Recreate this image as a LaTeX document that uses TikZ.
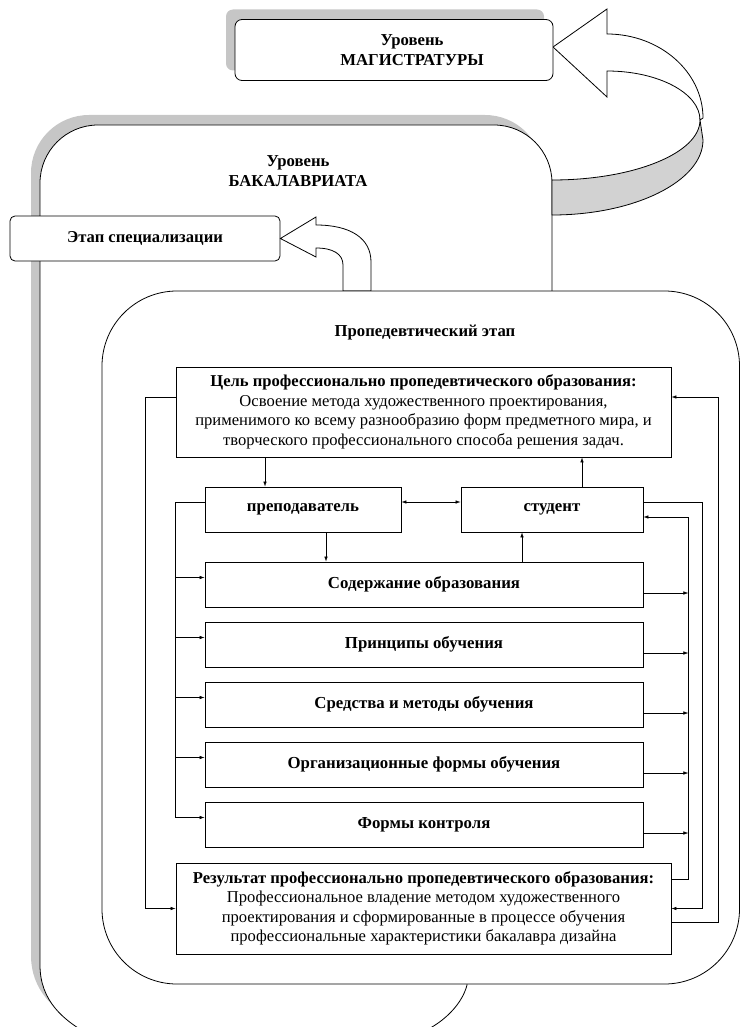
\documentclass[tikz,border=0pt]{standalone}
\usepackage{fontspec}
\setmainfont{Liberation Serif}
\usetikzlibrary{calc,shadows,arrows.meta}

\tikzset{
  levelbox/.style={draw, rounded corners=7pt, fill=white,
                   general shadow={fill=gray!45, shadow xshift=-9pt, shadow yshift=10pt}},
  stagebox/.style={draw, rounded corners=5pt, fill=white,
                   font=\bfseries\fontsize{16.6}{19}\selectfont},
  blockbox/.style={draw, rectangle, fill=white, align=center,
                   font=\bfseries\fontsize{16.8}{19}\selectfont},
  textbox/.style={draw, rectangle, fill=white, align=center,
                  font=\fontsize{16.6}{19.5}\selectfont},
  arr/.style={-{Latex[length=5pt,width=3.5pt]}, line width=0.6pt},
  darr/.style={{Latex[length=5pt,width=3.5pt]}-{Latex[length=5pt,width=3.5pt]}, line width=0.6pt}}

\begin{document}
\begin{tikzpicture}
[x=1pt, y=-1pt, line width=0.8pt,
 head/.style={align=center, font=\bfseries\fontsize{16.7}{20.5}\selectfont}]
\useasboundingbox (0,0) rectangle (740,1027);
\clip (0,0) rectangle (740,1027);

% уровень бакалавриата
\filldraw[fill=white, general shadow={fill=gray!45, shadow xshift=-9pt, shadow yshift=10pt}]
  (40,965) -- (40,183) .. controls (40,151) and (66,125) .. (98,125)
  -- (494,125) .. controls (526,125) and (552,151) .. (552,183)
  -- (552,600) -- (467,900) -- (467,985)
  .. controls (462,1005) and (440,1030) .. (400,1040) -- (100,1040)
  .. controls (62,1022) and (40,1000) .. (40,965) -- cycle;
\node (bak) at (298,171) [head] {Уровень\\БАКАЛАВРИАТА};

% переход на уровень магистратуры
\filldraw[fill=gray!35] (700,120) .. controls (700,153) and (634,180) .. (552,180)
  -- (552,215) .. controls (635,215) and (703,181) .. (703,140) -- cycle;
\filldraw[fill=white] (553,47) -- (607,9) -- (607,34)
  .. controls (660,34) and (703,72) .. (703,118) -- (700,120)
  .. controls (700,93) and (658,71) .. (607,71) -- (607,97) -- cycle;

\node (mag) at (394,50) [levelbox, minimum width=318pt, minimum height=61pt] {};
\node (magtext) at (412,50) [head] {Уровень\\МАГИСТРАТУРЫ};

% этап специализации
\node (spec) at (145,238.5) [stagebox, minimum width=270pt, minimum height=45pt] {Этап специализации};
\filldraw[fill=white] (spec.east) -- (316,217) -- (316,225)
  .. controls (350,225) and (371,238) .. (371,262) -- (371,291) -- (343,291)
  -- (343,265) .. controls (343,254) and (333,248) .. (316,248) -- (316,257) -- cycle;

% пропедевтический этап
\filldraw[fill=white, rounded corners=75pt] (102,291) rectangle (739.5,984);
\node (prop) at (425,333) [head] {Пропедевтический этап};

\node (goal) at (423.5,412) [textbox, minimum width=495pt, minimum height=90pt]
  {\textbf{Цель профессионально пропедевтического образования:}\\
   Освоение метода художественного проектирования,\\
   применимого ко всему разнообразию форм предметного мира, и\\
   творческого профессионального способа решения задач.};
\node (prep) at (303,509.5) [blockbox, minimum width=196pt, minimum height=45pt] {преподаватель};
\node (stud) at (552,509.5) [blockbox, minimum width=182pt, minimum height=45pt] {студент};
\node (content) at (424,584.5) [blockbox, minimum width=438pt, minimum height=45pt] {Содержание образования};
\node (princ) at (424,644.5) [blockbox, minimum width=438pt, minimum height=45pt] {Принципы обучения};
\node (means) at (424,704.5) [blockbox, minimum width=438pt, minimum height=45pt] {Средства и методы обучения};
\node (orgforms) at (424,764.5) [blockbox, minimum width=438pt, minimum height=45pt] {Организационные формы обучения};
\node (control) at (424,824.5) [blockbox, minimum width=438pt, minimum height=45pt] {Формы контроля};
\node (result) at (423.5,908.5) [textbox, minimum width=495pt, minimum height=91pt]
  {\textbf{Результат профессионально пропедевтического образования:}\\
   Профессиональное владение методом художественного\\
   проектирования и сформированные в процессе обучения\\
   профессиональные характеристики бакалавра дизайна};

% связи
\coordinate (p1) at ($(prep.north)+(-38,0)$);
\coordinate (s1) at ($(stud.north)+(30,0)$);
\coordinate (p2) at ($(prep.south)+(23,0)$);
\coordinate (s2) at ($(stud.south)+(-30,0)$);
\draw[arr] (p1 |- goal.south) -- (p1);
\draw[arr] (s1) -- (s1 |- goal.south);
\draw[arr] (p2) -- (p2 |- content.north);
\draw[arr] (s2 |- content.north) -- (s2);
\draw[darr] ($(prep.east)+(0,-7.5)$) -- ($(stud.west)+(0,-7.5)$);

\draw[arr] ($(goal.west)+(0,-15)$) -- ++(-30,0) |- (result.west);
\draw[line width=0.6pt] ($(prep.west)+(0,-7.5)$) -- ++(-29,0) |- ($(control.west)+(-29,-7)$);
\foreach \b in {content,princ,means,orgforms,control}
  \draw[arr] ($(\b.west)+(-29,-7)$) -- ($(\b.west)+(0,-7)$);

\draw[arr] ($(result.east)+(0,-29.5)$) -- ++(17,0) |- ($(stud.east)+(0,7.5)$);
\foreach \b in {content,princ,means,orgforms,control}
  \draw[arr] ($(\b.east)+(0,8.5)$) -- ++(45,0);
\draw[arr] ($(stud.east)+(0,-7.5)$) -- ++(59,0) |- (result.east);
\draw[arr] ($(result.east)+(0,13.5)$) -- ++(47,0) |- ($(goal.east)+(0,-15)$);
\end{tikzpicture}
\end{document}
